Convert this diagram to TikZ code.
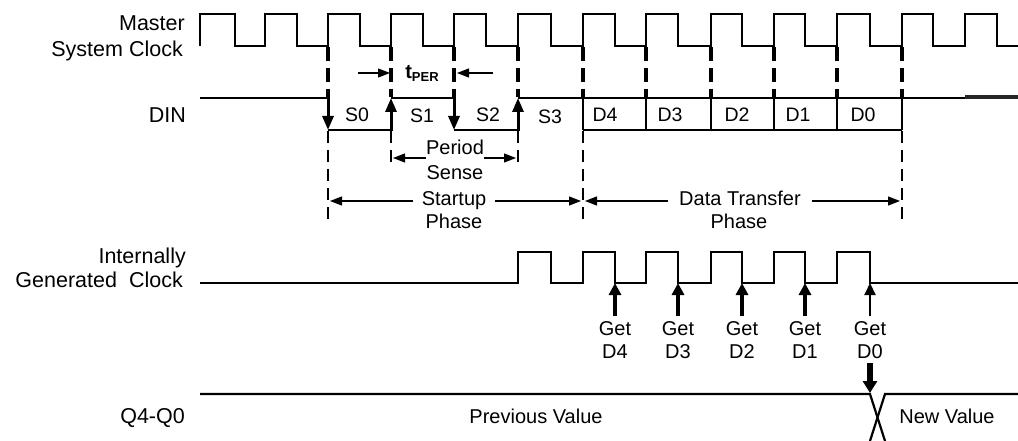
\documentclass[tikz,border=0pt]{standalone}
\usepackage{fontspec}
\setmainfont{Liberation Sans}
\usetikzlibrary{arrows.meta,calc}
\begin{document}
\begin{tikzpicture}[x=1pt,y=-1pt,
  wave/.style={line width=2.2pt, line join=miter},
  edgearr/.style={line width=3pt, -{Triangle[length=14pt,width=11pt]}},
  updash/.style={line width=3.4pt, dash pattern=on 14pt off 7pt},
  lodash/.style={line width=2.6pt, dash pattern=on 12pt off 7pt},
  dimarr/.style={line width=1.3pt, -{Triangle[length=12pt,width=9pt]}},
  getarr/.style={line width=4pt, -{Triangle[length=12pt,width=12pt]}},
  thingetarr/.style={line width=2pt, -{Triangle[length=12pt,width=11pt]}},
  bigdown/.style={line width=6pt, -{Triangle[length=12pt,width=14pt]}},
  siglab/.style={font=\fontsize{21.5}{26}\selectfont, anchor=base east, inner sep=0pt},
  txt/.style={font=\fontsize{20}{24}\selectfont, inner sep=0pt, anchor=base},
  stxt/.style={font=\fontsize{19.5}{24}\selectfont, inner sep=0pt, anchor=base},
]
\useasboundingbox (0,0) rectangle (1018,441);

% ---------- signal labels ----------
\node[siglab] (lmaster) at (185,31) {Master};
\node[siglab] (lsys) at (183,57) {System Clock};
\node[siglab] (ldin) at (186,123) {DIN};
\node[siglab] (lint) at (186,263) {Internally};
\node[siglab] (lgen) at (183,287) {Generated\hspace{12pt}Clock};
\node[siglab] (lq) at (185,423) {Q4-Q0};

% ---------- master system clock ----------
\draw[wave] (200,46) |- (235,14) |- (265,46) |- (297,14) |- (328,46) |- (360,14)
  |- (391,46) |- (423,14) |- (454,46) |- (486,14) |- (518,46) |- (551,14)
  |- (583,46) |- (615,14) |- (646,46) |- (678,14) |- (711,46) |- (742,14)
  |- (774,46) |- (805,14) |- (837,46) |- (870,14) |- (902,46) |- (933,14)
  |- (965,46) |- (997,14) |- (1018,46);

% ---------- dashed sync lines ----------
\foreach \x in {328,391,454,518,583,646,711,774,837,902}
  \draw[updash] (\x,47) -- (\x,97);
\foreach \x/\yb in {328/219,391/168,518/168,583/219,902/219}
  \draw[lodash] (\x,131) -- (\x,\yb);

% ---------- DIN ----------
\draw[wave] (200,98) -- (328,98);
\draw[wave] (328,130) -- (391,130);
\draw[wave] (391,98) -- (454,98);
\draw[wave] (454,130) -- (518,130);
\draw[wave] (518,98) -- (965,98);
\draw[line width=4pt, black!85] (965,97) -- (1018,97);
\draw[wave] (583,130) -- (902,130);
\foreach \x in {583,646,711,774,837,902}
  \draw[wave] (\x,98) -- (\x,130);
\draw[edgearr] (328,97) -- (328,130);
\draw[edgearr] (391,131) -- (391,98);
\draw[edgearr] (454,97) -- (454,130);
\draw[edgearr] (518,131) -- (518,98);

\node[stxt] (s0) at (357,122) {S0};
\node[stxt] (s1) at (422,123) {S1};
\node[stxt] (s2) at (488,122) {S2};
\node[stxt] (s3) at (550,124) {S3};
\node[stxt] (d4) at (605,122) {D4};
\node[stxt] (d3) at (670,122) {D3};
\node[stxt] (d2) at (737,122) {D2};
\node[stxt] (d1) at (798,122) {D1};
\node[stxt] (d0) at (863,122) {D0};

% ---------- t_PER ----------
\node[txt, anchor=base] (tper) at (422,79) {\textbf{t}\raisebox{-3pt}{\fontsize{13}{13}\selectfont\bfseries PER}};
\coordinate (tL) at (390,73);
\coordinate (tR) at (457,73);
\draw[dimarr] (358,73) -- (tL);
\draw[dimarr] (493,73) -- (tR);

% ---------- Period Sense ----------
\node[txt] (period) at (455,155) {Period};
\node[txt] (sense) at (455,180) {Sense};
\coordinate (pL) at (393,158);
\coordinate (pR) at (516,158);
\draw[dimarr] (period.west |- pL) -- (pL);
\draw[dimarr] (period.east |- pR) -- (pR);

% ---------- Startup Phase ----------
\node[txt, inner xsep=9pt] (startup) at (454,206) {Startup};
\node[txt] (phase1) at (454,228) {Phase};
\coordinate (sL) at (330,201);
\coordinate (sR) at (581,201);
\draw[dimarr] (startup.west |- sL) -- (sL);
\draw[dimarr] (startup.east |- sR) -- (sR);

% ---------- Data Transfer Phase ----------
\node[txt, inner xsep=11pt] (dtrans) at (740,206) {Data Transfer};
\node[txt] (phase2) at (739,228) {Phase};
\coordinate (dL) at (585,201);
\coordinate (dR) at (900,201);
\draw[dimarr] (dtrans.west |- dL) -- (dL);
\draw[dimarr] (dtrans.east |- dR) -- (dR);

% ---------- internally generated clock ----------
\draw[wave] (200,283) -- (518,283) |- (551,252) |- (583,283) |- (615,252)
  |- (646,283) |- (678,252) |- (711,283) |- (742,252) |- (774,283)
  |- (805,252) |- (837,283) |- (870,252) |- (1018,283);

% ---------- Get arrows ----------
\foreach \x/\n in {615/4,678/3,742/2,805/1} {
  \node[txt] (get\n) at (\x,335) {Get};
  \node[txt] (gd\n) at (\x,358) {D\n};
  \coordinate (ck\n) at (\x,283);
  \draw[getarr] ([yshift=4.5pt]get\n.north) -- (ck\n);
}
\node[txt] (get0) at (870,335) {Get};
\node[txt] (gd0) at (870,358) {D0};
\coordinate (ck0) at (870,283);
\draw[thingetarr] ([yshift=4.5pt]get0.north) -- (ck0);

% ---------- Q4-Q0 ----------
\coordinate (qx) at (870,393);
\draw[bigdown] ([yshift=-5pt]gd0.south) -- (qx);
\draw[wave] (200,394) -- (870,394) -- (885,441);
\draw[wave] (1018,394) -- (885,394) -- (870,441);
\node[txt] (prev) at (536,423) {Previous Value};
\node[txt] (new) at (947,423) {New Value};
\end{tikzpicture}
\end{document}
